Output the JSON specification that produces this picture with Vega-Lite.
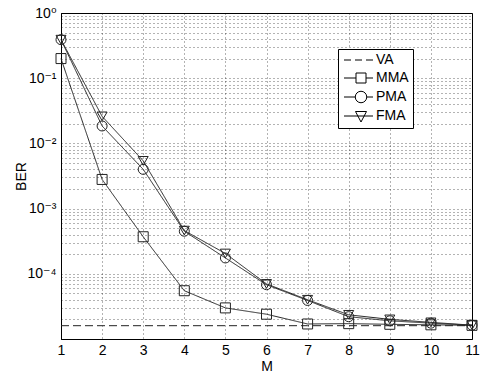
{
  "$schema": "https://vega.github.io/schema/vega-lite/v6.json",
  "width": 411,
  "height": 326,
  "autosize": {"type": "none"},
  "padding": {"left": 61, "top": 13, "right": 10, "bottom": 39},
  "background": "white",
  "config": {
    "view": {"stroke": "black", "strokeWidth": 1},
    "font": "Liberation Sans",
    "axis": {
      "domainColor": "black",
      "gridColor": "#000",
      "gridOpacity": 0.6,
      "gridDash": [1, 3],
      "gridWidth": 1,
      "labelColor": "black",
      "titleColor": "black",
      "labelFont": "Liberation Sans, DejaVu Sans",
      "titleFont": "Liberation Sans",
      "labelFontSize": 14,
      "titleFontSize": 14,
      "titleFontWeight": "normal"
    }
  },
  "data": {
    "values": [
      {"M": 1, "BER": 1.6e-5, "s": "VA"},
      {"M": 2, "BER": 1.6e-5, "s": "VA"},
      {"M": 3, "BER": 1.6e-5, "s": "VA"},
      {"M": 4, "BER": 1.6e-5, "s": "VA"},
      {"M": 5, "BER": 1.6e-5, "s": "VA"},
      {"M": 6, "BER": 1.6e-5, "s": "VA"},
      {"M": 7, "BER": 1.6e-5, "s": "VA"},
      {"M": 8, "BER": 1.6e-5, "s": "VA"},
      {"M": 9, "BER": 1.6e-5, "s": "VA"},
      {"M": 10, "BER": 1.6e-5, "s": "VA"},
      {"M": 11, "BER": 1.6e-5, "s": "VA"},
      {"M": 1, "BER": 0.2, "s": "MMA"},
      {"M": 2, "BER": 2.8e-3, "s": "MMA"},
      {"M": 3, "BER": 3.7e-4, "s": "MMA"},
      {"M": 4, "BER": 5.5e-5, "s": "MMA"},
      {"M": 5, "BER": 3.0e-5, "s": "MMA"},
      {"M": 6, "BER": 2.4e-5, "s": "MMA"},
      {"M": 7, "BER": 1.7e-5, "s": "MMA"},
      {"M": 8, "BER": 1.72e-5, "s": "MMA"},
      {"M": 9, "BER": 1.68e-5, "s": "MMA"},
      {"M": 10, "BER": 1.65e-5, "s": "MMA"},
      {"M": 11, "BER": 1.62e-5, "s": "MMA"},
      {"M": 1, "BER": 0.39, "s": "PMA"},
      {"M": 2, "BER": 0.0185, "s": "PMA"},
      {"M": 3, "BER": 4.0e-3, "s": "PMA"},
      {"M": 4, "BER": 4.5e-4, "s": "PMA"},
      {"M": 5, "BER": 1.75e-4, "s": "PMA"},
      {"M": 6, "BER": 6.8e-5, "s": "PMA"},
      {"M": 7, "BER": 3.9e-5, "s": "PMA"},
      {"M": 8, "BER": 2.2e-5, "s": "PMA"},
      {"M": 9, "BER": 1.9e-5, "s": "PMA"},
      {"M": 10, "BER": 1.75e-5, "s": "PMA"},
      {"M": 11, "BER": 1.63e-5, "s": "PMA"},
      {"M": 1, "BER": 0.39, "s": "FMA"},
      {"M": 2, "BER": 0.026, "s": "FMA"},
      {"M": 3, "BER": 5.4e-3, "s": "FMA"},
      {"M": 4, "BER": 4.6e-4, "s": "FMA"},
      {"M": 5, "BER": 2.05e-4, "s": "FMA"},
      {"M": 6, "BER": 7.0e-5, "s": "FMA"},
      {"M": 7, "BER": 4.0e-5, "s": "FMA"},
      {"M": 8, "BER": 2.35e-5, "s": "FMA"},
      {"M": 9, "BER": 2.0e-5, "s": "FMA"},
      {"M": 10, "BER": 1.8e-5, "s": "FMA"},
      {"M": 11, "BER": 1.63e-5, "s": "FMA"}
    ]
  },
  "encoding": {
    "x": {
      "field": "M",
      "type": "quantitative",
      "scale": {"domain": [1, 11], "nice": false, "zero": false},
      "axis": {
        "title": "M",
        "values": [1, 2, 3, 4, 5, 6, 7, 8, 9, 10, 11],
        "ticks": false,
        "labelPadding": 4,
        "titlePadding": 2,
        "labelFlush": false
      }
    },
    "y": {
      "field": "BER",
      "type": "quantitative",
      "scale": {"type": "log", "domain": [1e-5, 1], "nice": false},
      "axis": {
        "title": "BER",
        "ticks": false,
        "labelPadding": 5,
        "titleX": -33,
        "titleY": 163,
        "values": [1e-5, 2e-5, 3e-5, 4e-5, 5e-5, 6e-5, 7e-5, 8e-5, 9e-5,
                   1e-4, 2e-4, 3e-4, 4e-4, 5e-4, 6e-4, 7e-4, 8e-4, 9e-4,
                   1e-3, 2e-3, 3e-3, 4e-3, 5e-3, 6e-3, 7e-3, 8e-3, 9e-3,
                   1e-2, 2e-2, 3e-2, 4e-2, 5e-2, 6e-2, 7e-2, 8e-2, 9e-2,
                   0.1, 0.2, 0.3, 0.4, 0.5, 0.6, 0.7, 0.8, 0.9, 1],
        "labelExpr": "abs(datum.value-1) < 1e-9 ? '10⁰' : abs(datum.value-0.1) < 1e-9 ? '10⁻¹' : abs(datum.value-0.01) < 1e-10 ? '10⁻²' : abs(datum.value-0.001) < 1e-11 ? '10⁻³' : abs(datum.value-0.0001) < 1e-12 ? '10⁻⁴' : ''",
        "labelFlush": false,
        "labelOverlap": false
      }
    }
  },
  "layer": [
    {
      "mark": {"type": "line", "strokeWidth": 1, "color": "#222"},
      "encoding": {
        "detail": {"field": "s"},
        "strokeDash": {
          "field": "s",
          "type": "nominal",
          "scale": {
            "domain": ["VA", "MMA", "PMA", "FMA"],
            "range": [[8, 4], [1, 0], [1, 0], [1, 0]]
          },
          "legend": null
        },
        "strokeWidth": {
          "condition": {"test": "datum.s === 'VA'", "value": 2},
          "value": 1
        }
      }
    },
    {
      "transform": [{"filter": "datum.s !== 'VA'"}],
      "mark": {"type": "point", "filled": false, "color": "#222", "strokeWidth": 1, "opacity": 1},
      "encoding": {
        "shape": {
          "field": "s",
          "type": "nominal",
          "scale": {
            "domain": ["MMA", "PMA", "FMA"],
            "range": ["square", "circle", "triangle-down"]
          },
          "legend": null
        },
        "size": {"value": 100}
      }
    },
    {
      "transform": [{"filter": "false"}],
      "mark": {"type": "point", "filled": false, "color": "black", "strokeWidth": 1, "opacity": 1},
      "encoding": {
        "shape": {
          "field": "s",
          "type": "nominal",
          "scale": {
            "domain": ["VA", "MMA", "PMA", "FMA"],
            "range": [
              "M-1,0H0.4M1.2,0H2.6M3.4,0H4.8",
              "M-1,0H1.4M3.4,0H4.8M1.4,-1H3.4V1H1.4Z",
              "M-1,0H1.25M3.55,0H4.8M1.25,0A1.15,1.15,0,1,1,3.55,0A1.15,1.15,0,1,1,1.25,0Z",
              "M-1,0H4.8M1.3,-0.9H3.5L2.4,1.2Z"
            ]
          },
          "legend": {
            "title": null,
            "orient": "none",
            "legendX": 277,
            "legendY": 36,
            "strokeColor": "black",
            "fillColor": "white",
            "padding": 4,
            "symbolSize": 100,
            "symbolStrokeColor": "black",
            "symbolFillColor": "transparent",
            "symbolStrokeWidth": 1,
            "labelFontSize": 14,
            "labelFont": "Liberation Sans",
            "labelColor": "black",
            "labelOffset": 20,
            "rowPadding": 4
          }
        },
        "size": {"value": 100}
      }
    }
  ],
  "resolve": {"scale": {"shape": "independent"}, "legend": {"shape": "independent"}}
}
